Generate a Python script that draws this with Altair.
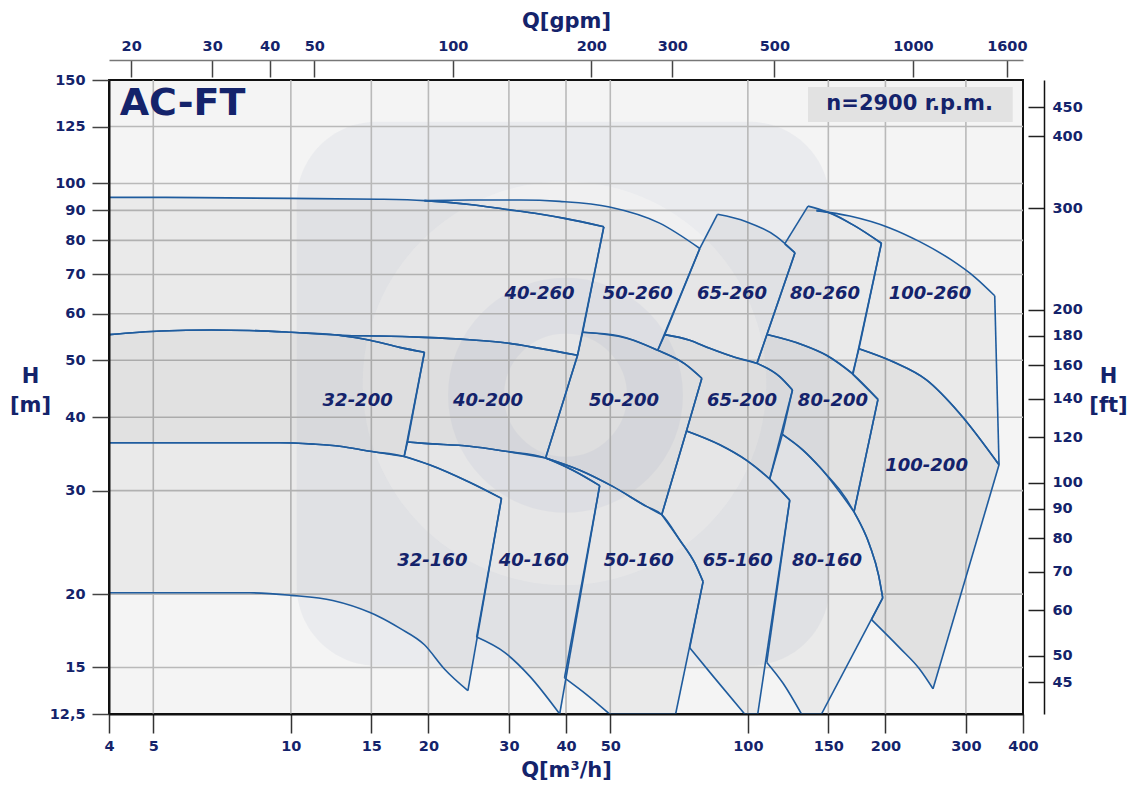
import altair as alt
import pandas as pd

NAVY = "#14236b"
BLUE = "#1f5c9e"
FONT = "DejaVu Sans"

# ---- pump operating regions: flow Q [m3/h] and head H [m] along each outline ----
q_40_260 = [4, 5.0, 6.3, 10.0, 15.6, 19.6, 24.6, 29.4, 35.0, 39.7, 48.4, 42.4, 35.0, 29.7, 24.6, 19.6, 15.6, 13.1, 12.6, 10.0, 8.1, 6.7, 5.2, 4]
h_40_260 = [94.7, 94.7, 94.6, 94.3, 94.0, 93.5, 92.1, 90.4, 88.7, 87.2, 84.4, 51.0, 52.4, 53.5, 54.2, 54.7, 55.0, 55.1, 55.2, 55.8, 56.2, 56.3, 56.1, 55.3]
c_40_260 = [0, 10, 11, 23]

q_32_200 = [4, 5.2, 6.7, 8.1, 10.0, 12.6, 14.9, 17.3, 19.6, 17.7, 14.9, 12.8, 11.2, 9.45, 6.3, 4]
h_32_200 = [55.3, 56.1, 56.3, 56.2, 55.8, 55.2, 54.1, 52.6, 51.6, 34.3, 35.0, 35.7, 36.0, 36.2, 36.2, 36.2]
c_32_200 = [0, 8, 9, 15]

q_32_160 = [4, 6.3, 9.45, 11.2, 12.8, 14.9, 17.7, 20.1, 24.6, 28.9, 24.4, 21.7, 19.6, 17.3, 15.6, 14.9, 12.35, 10.0, 8.13, 6.3, 4]
h_32_160 = [36.2, 36.2, 36.2, 36.0, 35.7, 35.0, 34.3, 33.2, 31.0, 29.1, 13.7, 14.9, 16.4, 17.5, 18.3, 18.6, 19.5, 19.9, 20.1, 20.1, 20.1]
c_32_160 = [0, 9, 10, 20]

q_40_200 = [12.6, 13.1, 15.6, 19.6, 24.6, 29.7, 35.0, 42.4, 36.1, 29.5, 24.6, 19.6, 18.0, 19.6, 17.3, 14.9]
h_40_200 = [55.2, 55.1, 55.0, 54.7, 54.2, 53.5, 52.4, 51.0, 34.1, 35.0, 35.7, 36.1, 36.3, 51.6, 52.6, 54.1]
c_40_200 = [0, 7, 8, 12, 13]

q_40_160 = [18.0, 19.6, 24.6, 29.5, 36.1, 41.4, 47.4, 38.75, 33.3, 29.4, 25.5, 28.9, 24.6, 20.1, 17.7]
h_40_160 = [36.3, 36.1, 35.7, 35.0, 34.1, 32.5, 30.6, 12.5, 14.5, 15.9, 16.9, 29.1, 31.0, 33.2, 34.3]
c_40_160 = [0, 6, 7, 10, 11, 14]

q_50_260 = [19.6, 24.6, 31.7, 38.75, 49.8, 64.1, 78.5, 63.5, 54.3, 43.5, 48.4, 39.7, 35.0, 29.4, 24.6]
h_50_260 = [93.5, 93.7, 93.7, 93.2, 91.2, 85.6, 77.5, 52.0, 54.5, 55.8, 84.4, 87.2, 88.7, 90.4, 92.1]
c_50_260 = [0, 6, 7, 9, 10]

q_50_200 = [43.5, 52.4, 63.5, 72.8, 79.3, 73.4, 64.8, 60.0, 50.6, 42.9, 36.1, 42.4]
h_50_200 = [55.8, 55.0, 52.0, 49.3, 46.6, 37.9, 27.3, 28.2, 30.5, 32.5, 34.1, 51.0]
c_50_200 = [0, 4, 6, 10, 11]

q_50_160 = [36.1, 42.9, 50.6, 60.0, 64.8, 71.0, 76.5, 79.8, 69.5, 49.8, 44.3, 39.7, 47.4, 41.4]
h_50_160 = [34.1, 32.5, 30.5, 28.2, 27.3, 24.7, 22.6, 21.0, 12.5, 12.5, 13.5, 14.4, 30.6, 32.5]
c_50_160 = [0, 7, 8, 9, 11, 12]

q_65_260 = [85.8, 99.2, 115.5, 126.8, 104.7, 93.6, 82.5, 74.6, 65.8, 78.5]
h_65_260 = [88.6, 86.1, 81.2, 76.2, 49.4, 50.6, 52.4, 54.1, 55.3, 77.5]
c_65_260 = [0, 3, 4, 8, 9]

q_65_200 = [65.8, 74.6, 82.5, 93.6, 104.7, 117.4, 125.2, 111.6, 99.2, 86.8, 73.4, 79.3, 72.8, 63.5]
h_65_200 = [55.3, 54.1, 52.4, 50.6, 49.4, 46.9, 44.5, 31.4, 33.8, 35.9, 37.9, 46.6, 49.3, 52.0]
c_65_200 = [0, 6, 7, 10, 11, 13]

q_65_160 = [73.4, 86.8, 99.2, 111.6, 123.5, 105.1, 98.4, 83.9, 74.6, 79.8, 76.5, 71.0, 64.8]
h_65_160 = [37.9, 35.9, 33.8, 31.4, 28.9, 12.5, 12.5, 14.5, 16.2, 21.0, 22.6, 24.7, 27.3]
c_65_160 = [0, 4, 5, 6, 8, 9, 12]

q_80_260 = [135.4, 148.6, 169.9, 196.0, 169.9, 148.6, 132.0, 110.1, 126.8, 120.4]
h_80_260 = [91.5, 89.5, 85.0, 79.1, 47.4, 51.0, 53.1, 55.3, 76.2, 78.9]
c_80_260 = [0, 3, 4, 7, 8, 9]

q_80_200 = [110.1, 132.0, 148.6, 169.4, 192.6, 170.7, 143.6, 131.8, 119.0, 125.2, 117.4, 104.7]
h_80_200 = [55.3, 53.1, 51.0, 47.4, 42.9, 27.6, 32.9, 35.2, 37.4, 44.5, 46.9, 49.4]
c_80_200 = [0, 4, 5, 8, 9, 11]

q_80_160 = [119.0, 131.8, 143.6, 170.7, 184.8, 193.3, 197.3, 144.9, 131.0, 119.4, 110.0, 123.5, 111.6]
h_80_160 = [37.4, 35.2, 32.9, 27.6, 24.2, 21.5, 19.7, 12.5, 12.5, 14.1, 15.3, 28.9, 31.4]
c_80_160 = [0, 6, 7, 8, 10, 11, 12]

q_100_260 = [141.3, 167.1, 204.4, 237.7, 278.8, 313.6, 346.9, 354.5, 290.7, 245.9, 207.8, 175.0, 196.0, 169.9, 148.6]
h_100_260 = [89.9, 88.0, 84.0, 79.6, 74.1, 69.3, 64.4, 33.2, 40.6, 46.3, 49.7, 52.3, 79.1, 85.0, 89.5]
c_100_260 = [0, 6, 7, 11, 12]

q_100_200 = [175.0, 207.8, 245.9, 290.7, 354.5, 254.2, 237.7, 214.9, 186.4, 197.3, 193.3, 184.8, 170.7, 192.6, 169.4]
h_100_200 = [52.3, 49.7, 46.3, 40.6, 33.2, 13.8, 14.9, 16.2, 18.1, 19.7, 21.5, 24.2, 27.6, 42.9, 47.4]
c_100_200 = [0, 4, 5, 8, 9, 12, 13, 14]

# ---- region labels ----
label_text = ["40-260", "50-260", "65-260", "80-260", "100-260",
              "32-200", "40-200", "50-200", "65-200", "80-200", "100-200",
              "32-160", "40-160", "50-160", "65-160", "80-160"]
label_q = [35.0, 57.4, 92.3, 147.5, 250.4,
           14.0, 27.0, 53.6, 97.1, 153.5, 246.1,
           20.4, 34.0, 57.7, 95.0, 149.0]
label_h = [64.8, 64.8, 64.8, 64.8, 64.8,
           42.6, 42.6, 42.6, 42.6, 42.6, 33.0,
           22.8, 22.8, 22.8, 22.8, 22.8]

# ---- axes ----
q_ticks = [4, 5, 10, 15, 20, 30, 40, 50, 100, 150, 200, 300, 400]
h_ticks = [12.5, 15, 20, 30, 40, 50, 60, 70, 80, 90, 100, 125, 150]
q_grid = [5, 10, 15, 20, 30, 40, 50, 100, 150, 200, 300]
h_grid = [15, 20, 30, 40, 50, 60, 70, 80, 90, 100, 125]
gpm_ticks = [20, 30, 40, 50, 100, 200, 300, 500, 1000, 1600]
gpm_range = [17.9, 1735]
ft_ticks = [45, 50, 60, 70, 80, 90, 100, 120, 140, 160, 180, 200, 300, 400, 450]
ft_range = [39.6, 501.4]

title_text = ["AC-FT"]
title_q = [4.22]
title_h = [136.5]
speed_text = ["n=2900 r.p.m."]
speed_box_q = [135.4, 379.8]
speed_box_h = [145.9, 127.2]
speed_q = [225.9]
speed_h = [136.5]

# ---- faint background logo (watermark) ----
logo_box_q = [10.3, 151.0]
logo_box_h = [127.3, 15.1]
logo_disc_q = [39.7]
logo_disc_h = [45.7]
logo_ring_q = [39.9]
logo_ring_h = [43.6]

regions = [
    ("40-260", "light", q_40_260, h_40_260, c_40_260),
    ("32-200", "dark", q_32_200, h_32_200, c_32_200),
    ("32-160", "light", q_32_160, h_32_160, c_32_160),
    ("40-200", "dark", q_40_200, h_40_200, c_40_200),
    ("40-160", "light", q_40_160, h_40_160, c_40_160),
    ("50-260", "light", q_50_260, h_50_260, c_50_260),
    ("50-200", "dark", q_50_200, h_50_200, c_50_200),
    ("50-160", "light", q_50_160, h_50_160, c_50_160),
    ("65-260", "light", q_65_260, h_65_260, c_65_260),
    ("65-200", "dark", q_65_200, h_65_200, c_65_200),
    ("65-160", "light", q_65_160, h_65_160, c_65_160),
    ("80-260", "light", q_80_260, h_80_260, c_80_260),
    ("80-200", "dark", q_80_200, h_80_200, c_80_200),
    ("80-160", "light", q_80_160, h_80_160, c_80_160),
    ("100-260", "light", q_100_260, h_100_260, c_100_260),
    ("100-200", "dark", q_100_200, h_100_200, c_100_200),
]

poly_rows = []
seg_rows = []
for name, shade, qs, hs, corners in regions:
    qq = qs + [qs[0]]
    hh = hs + [hs[0]]
    for i, (q, h) in enumerate(zip(qq, hh)):
        poly_rows.append({"pump": name, "shade": shade, "i": i, "Q": q, "H": h})
    bounds = corners + [len(qs)]
    for k in range(len(bounds) - 1):
        for j in range(bounds[k], bounds[k + 1] + 1):
            seg_rows.append({"seg": f"{name}/{k}", "Q": qq[j], "H": hh[j]})
poly_df = pd.DataFrame(poly_rows)
seg_df = pd.DataFrame(seg_rows)

labels_df = pd.DataFrame({"txt": label_text, "Q": label_q, "H": label_h})
title_df = pd.DataFrame({"txt": title_text, "Q": title_q, "H": title_h})
box_df = pd.DataFrame({"Q": [speed_box_q[0]], "Q2": [speed_box_q[1]],
                       "H": [speed_box_h[0]], "H2": [speed_box_h[1]]})
speed_df = pd.DataFrame({"txt": speed_text, "Q": speed_q, "H": speed_h})
logo_box_df = pd.DataFrame({"Q": [logo_box_q[0]], "Q2": [logo_box_q[1]],
                            "H": [logo_box_h[0]], "H2": [logo_box_h[1]]})
logo_disc_df = pd.DataFrame({"Q": logo_disc_q, "H": logo_disc_h})
logo_ring_df = pd.DataFrame({"Q": logo_ring_q, "H": logo_ring_h})
vgrid_df = pd.DataFrame({"Q": q_grid})
hgrid_df = pd.DataFrame({"H": h_grid})

xscale = alt.Scale(type="log", domain=[4, 400], nice=False)
yscale = alt.Scale(type="log", domain=[12.5, 150], nice=False)

lab = dict(labelFont=FONT, labelFontSize=14.5, labelFontWeight="bold", labelColor=NAVY,
           titleFont=FONT, titleFontSize=21, titleFontWeight="bold", titleColor=NAVY,
           labelOverlap=False, labelFlush=False)

x_axis = alt.Axis(values=q_ticks, format="~g", title="Q[m³/h]", grid=False,
                  domainColor="#111", domainWidth=2,
                  tickColor="#333", tickSize=19, tickWidth=1.5, labelPadding=6,
                  titleY=62, titleBaseline="alphabetic", zindex=1, **lab)
y_axis = alt.Axis(values=h_ticks, format="~g",
                  labelExpr="datum.value == 12.5 ? '12,5' : datum.label",
                  title=["H", "[m]"], titleAngle=0, titleX=-79, titleY=302,
                  titleAlign="center", titleBaseline="alphabetic", titleLineHeight=29,
                  grid=False, domainColor="#111",
                  domainWidth=2, tickColor="#444", tickSize=17, tickWidth=1.5,
                  labelPadding=7, zindex=1, **lab)

X = alt.X("Q:Q", scale=xscale, axis=x_axis)
Y = alt.Y("H:Q", scale=yscale, axis=y_axis)

logo_box = alt.Chart(logo_box_df).mark_rect(
    cornerRadius=80, color="#d9dce6", opacity=0.38
).encode(x=X, x2="Q2:Q", y=Y, y2="H2:Q")

logo_disc = alt.Chart(logo_disc_df).mark_point(
    shape="circle", filled=True, size=163000, color="#f4f4f4", opacity=0.55, clip=True
).encode(x=X, y=Y)

logo_ring = alt.Chart(logo_ring_df).mark_point(
    shape="circle", filled=False, size=32000, color="#d9dce6", strokeWidth=56,
    opacity=0.35, clip=True
).encode(x=X, y=Y)

vgrid = alt.Chart(vgrid_df).mark_rule(color="#b9b9b9", strokeWidth=1.6).encode(x=X)
hgrid = alt.Chart(hgrid_df).mark_rule(color="#b9b9b9", strokeWidth=1.6).encode(y=Y)

fill_light = alt.Chart(poly_df).transform_filter(alt.datum.shade == "light").mark_line(
    fill="#000000", fillOpacity=0.04, strokeOpacity=0, clip=True
).encode(x=X, y=Y, detail="pump:N", order=alt.Order("i:Q"))

fill_dark = alt.Chart(poly_df).transform_filter(alt.datum.shade == "dark").mark_line(
    fill="#000000", fillOpacity=0.075, strokeOpacity=0, clip=True
).encode(x=X, y=Y, detail="pump:N", order=alt.Order("i:Q"))

outlines = alt.Chart(seg_df).mark_line(
    color=BLUE, strokeWidth=1.6, clip=True, interpolate="monotone"
).encode(x=X, y=Y, detail="seg:N")

region_labels = alt.Chart(labels_df).mark_text(
    font=FONT, fontSize=18, fontWeight="bold", fontStyle="italic", color=NAVY,
    align="center", baseline="middle"
).encode(x=X, y=Y, text="txt:N")

title_mark = alt.Chart(title_df).mark_text(
    font=FONT, fontSize=38, fontWeight="bold", color=NAVY, align="left", baseline="middle"
).encode(x=X, y=Y, text="txt:N")

speed_box = alt.Chart(box_df).mark_rect(fill="#e2e2e2").encode(
    x=X, x2="Q2:Q", y=Y, y2="H2:Q")

speed_mark = alt.Chart(speed_df).mark_text(
    font=FONT, fontSize=21, fontWeight="bold", color=NAVY, align="center", baseline="middle"
).encode(x=X, y=Y, text="txt:N")

main = alt.layer(logo_box, logo_disc, logo_ring, vgrid, hgrid, fill_light, fill_dark,
                 outlines, region_labels, title_mark, speed_box, speed_mark)

gpm_df = pd.DataFrame({"gpm": gpm_range})
gpm_scale = alt.Scale(type="log", domain=gpm_range, nice=False)
gpm_ticks_layer = alt.Chart(gpm_df).mark_point(opacity=0).encode(
    x=alt.X("gpm:Q", scale=gpm_scale,
            axis=alt.Axis(orient="top", offset=3, values=gpm_ticks, format="~g",
                          domain=False, grid=False, tickSize=17, tickColor="#444",
                          tickWidth=1.5, labelPadding=7, title="Q[gpm]", titleY=-50,
                          titleBaseline="alphabetic", **lab)))
gpm_line_layer = alt.Chart(gpm_df).mark_point(opacity=0).encode(
    x=alt.X("gpm:Q", scale=gpm_scale,
            axis=alt.Axis(orient="top", offset=20, domain=True, domainColor="#777",
                          domainWidth=1.5, ticks=False, labels=False, grid=False,
                          title="")))

ft_df = pd.DataFrame({"ft": ft_range})
ft_scale = alt.Scale(type="log", domain=ft_range, nice=False)
ft_ticks_layer = alt.Chart(ft_df).mark_point(opacity=0).encode(
    y=alt.Y("ft:Q", scale=ft_scale,
            axis=alt.Axis(orient="right", offset=5, values=ft_ticks, format="~g",
                          domain=False, grid=False, tickSize=16, tickColor="#222",
                          tickWidth=1.5, labelPadding=8, title=["H", "[ft]"],
                          titleAngle=0, titleX=80, titleY=302, titleAlign="center",
                          titleBaseline="alphabetic", titleLineHeight=29, **lab)))
ft_line_layer = alt.Chart(ft_df).mark_point(opacity=0).encode(
    y=alt.Y("ft:Q", scale=ft_scale,
            axis=alt.Axis(orient="right", offset=21, domain=True, domainColor="#111",
                          domainWidth=1.5, ticks=False, labels=False, grid=False,
                          title="")))

chart = alt.layer(main, gpm_ticks_layer, gpm_line_layer, ft_ticks_layer, ft_line_layer
).resolve_scale(x="independent", y="independent").properties(
    width=914, height=634,
    padding={"left": 101, "top": 72, "right": 106, "bottom": 68},
    autosize=alt.AutoSizeParams(type="none"),
    background="white",
).configure_view(fill="#f4f4f4", stroke="#111", strokeWidth=2)

chart.save("out.html", embed_options={"renderer": "svg", "actions": False})
